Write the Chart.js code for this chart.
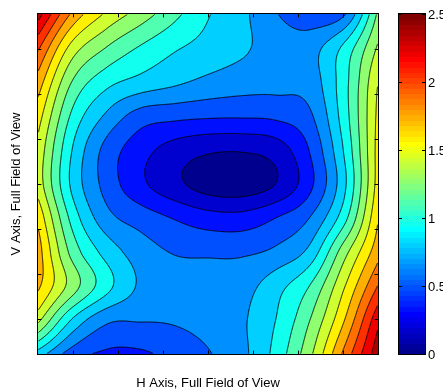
<!DOCTYPE html>
<html>
<head>
<meta charset="UTF-8">
<title>Contour map</title>
<script src="https://cdn.jsdelivr.net/npm/chart.js@4"></script>
<style>
  html, body { margin: 0; padding: 0; background: #fff; }
  canvas { display: block; }
</style>
</head>
<body>
<canvas id="c" width="443" height="390"></canvas>
<script>
// sample positions of the surface (axis units)
const gridX = [-3.78, -3.024, -2.268, -1.512, -0.756, 0, 0.756, 1.512, 2.268, 3.024, 3.78];
const gridY = [3.78, 3.024, 2.268, 1.512, 0.756, 0, -0.756, -1.512, -2.268, -3.024, -3.78];

// surface values, one row per gridY (top -> bottom)
const zRow0  = [2.42, 1.85, 1.54, 1.34, 1.14, 0.95, 0.82, 0.635, 0.52, 0.60, 1.28];
const zRow1  = [2.06, 1.50, 1.245, 1.077, 0.958, 0.878, 0.805, 0.72, 0.72, 0.976, 1.43];
const zRow2  = [1.81, 1.245, 0.992, 0.885, 0.812, 0.742, 0.698, 0.68, 0.70, 1.033, 1.56];
const zRow3  = [1.635, 1.063, 0.757, 0.556, 0.512, 0.49, 0.485, 0.50, 0.60, 1.016, 1.60];
const zRow4  = [1.52, 0.9375, 0.575, 0.377, 0.25, 0.18, 0.17, 0.23, 0.48, 0.95, 1.62];
const zRow5  = [1.50, 0.905, 0.57, 0.352, 0.20, 0.09, 0.07, 0.16, 0.43, 0.898, 1.63];
const zRow6  = [1.68, 1.042, 0.686, 0.557, 0.46, 0.38, 0.37, 0.47, 0.63, 1.035, 1.71];
const zRow7  = [1.79, 1.198, 0.882, 0.706, 0.615, 0.60, 0.60, 0.66, 0.833, 1.341, 1.82];
const zRow8  = [1.75, 1.333, 0.996, 0.76, 0.70, 0.69, 0.72, 0.877, 1.10, 1.546, 2.04];
const zRow9  = [1.45, 0.923, 0.66, 0.635, 0.64, 0.68, 0.76, 0.94, 1.25, 1.71, 2.30];
const zRow10 = [0.86, 0.547, 0.44, 0.44, 0.525, 0.612, 0.741, 0.993, 1.37, 1.914, 2.45];
const zRows = [zRow0, zRow1, zRow2, zRow3, zRow4, zRow5, zRow6, zRow7, zRow8, zRow9, zRow10];

// contour levels
const levels = [0.15625, 0.3125, 0.46875, 0.625, 0.78125, 0.9375, 1.09375, 1.25,
                1.40625, 1.5625, 1.71875, 1.875, 2.03125, 2.1875, 2.34375];

const hTicks = [-3, -2, -1, 0, 1, 2, 3];
const vTicks = [-3, -2, -1, 0, 1, 2, 3];
const cbTicks = [0, 0.5, 1, 1.5, 2, 2.5];
const cbLabels = ['0', '0.5', '1', '1.5', '2', '2.5'];
const cMin = 0, cMax = 2.5;
const hTitle = 'H Axis, Full Field of View';
const vTitle = 'V Axis, Full Field of View';

const FONT = '13px "Liberation Sans", Arial, sans-serif';

// MATLAB jet(64), row i = 1..64
function jet64(i) {
  const u = k => k <= 16 ? k / 16 : (k <= 31 ? 1 : (48 - k) / 16);
  const r = i >= 25 ? u(i - 24) : 0;
  const g = (i >= 9 && i <= 55) ? u(i - 8) : 0;
  const b = i <= 39 ? u(i + 8) : 0;
  return [Math.round(r * 255), Math.round(g * 255), Math.round(b * 255)];
}
function colorIndex(v) {
  return Math.max(1, Math.min(64, Math.floor((v - cMin) / (cMax - cMin) * 64 + 1e-9) + 1));
}

// padded grid (linear extension) for bicubic sampling
const wide = zRows.map(r => [2 * r[0] - r[1], ...r, 2 * r[r.length - 1] - r[r.length - 2]]);
const padTop = wide[0].map((v, i) => 2 * v - wide[1][i]);
const padBot = wide[wide.length - 1].map((v, i) => 2 * v - wide[wide.length - 2][i]);
const P = [padTop, ...wide, padBot];

function cr(p0, p1, p2, p3, t) {
  return 0.5 * (2 * p1 + (-p0 + p2) * t + (2 * p0 - 5 * p1 + 4 * p2 - p3) * t * t + (-p0 + 3 * p1 - 3 * p2 + p3) * t * t * t);
}
function surf(vx, vy) {
  const nc = gridX.length, nr = gridY.length;
  const fc = (vx - gridX[0]) / (gridX[nc - 1] - gridX[0]) * (nc - 1);
  const fr = (vy - gridY[0]) / (gridY[nr - 1] - gridY[0]) * (nr - 1);
  const c0 = Math.max(0, Math.min(nc - 2, Math.floor(fc)));
  const r0 = Math.max(0, Math.min(nr - 2, Math.floor(fr)));
  const t = fc - c0, s = fr - r0;
  const col = [];
  for (let k = 0; k < 4; k++) {
    const row = P[r0 + k];
    col.push(cr(row[c0], row[c0 + 1], row[c0 + 2], row[c0 + 3], t));
  }
  return cr(col[0], col[1], col[2], col[3], s);
}

const contourPlugin = {
  id: 'contour',
  beforeDatasetsDraw(chart) {
    const { ctx, chartArea: a, scales } = chart;
    const xs = scales.x, ys = scales.y;
    const w = Math.round(a.right - a.left), h = Math.round(a.bottom - a.top);
    const f = new Float32Array(w * h);
    const vxs = [];
    for (let i = 0; i < w; i++) vxs.push(xs.getValueForPixel(a.left + i + 0.5));
    for (let j = 0; j < h; j++) {
      const vy = ys.getValueForPixel(a.top + j + 0.5);
      for (let i = 0; i < w; i++) f[j * w + i] = surf(vxs[i], vy);
    }
    // filled bands: colour of the lower level of each band
    const bandCol = [0, ...levels].map(v => jet64(colorIndex(v)));
    const img = ctx.createImageData(w, h);
    for (let p = 0; p < w * h; p++) {
      const v = f[p];
      let b = 0;
      while (b < levels.length && v >= levels[b]) b++;
      const c = bandCol[b];
      img.data[p * 4] = c[0]; img.data[p * 4 + 1] = c[1]; img.data[p * 4 + 2] = c[2]; img.data[p * 4 + 3] = 255;
    }
    ctx.putImageData(img, a.left, a.top);

    // contour lines (marching squares)
    ctx.save();
    ctx.beginPath();
    const X = i => a.left + i + 0.5, Y = j => a.top + j + 0.5;
    levels.forEach(L => {
      for (let j = 0; j < h - 1; j++) {
        for (let i = 0; i < w - 1; i++) {
          const tl = f[j * w + i], tr = f[j * w + i + 1], bl = f[(j + 1) * w + i], br = f[(j + 1) * w + i + 1];
          const idx = (tl > L ? 8 : 0) | (tr > L ? 4 : 0) | (br > L ? 2 : 0) | (bl > L ? 1 : 0);
          if (idx === 0 || idx === 15) continue;
          const T = () => [X(i + (L - tl) / (tr - tl)), Y(j)];
          const R = () => [X(i + 1), Y(j + (L - tr) / (br - tr))];
          const B = () => [X(i + (L - bl) / (br - bl)), Y(j + 1)];
          const Lf = () => [X(i), Y(j + (L - tl) / (bl - tl))];
          const seg = (p, q) => { ctx.moveTo(p[0], p[1]); ctx.lineTo(q[0], q[1]); };
          const mid = (tl + tr + bl + br) / 4 > L;
          switch (idx) {
            case 1: case 14: seg(Lf(), B()); break;
            case 2: case 13: seg(B(), R()); break;
            case 3: case 12: seg(Lf(), R()); break;
            case 4: case 11: seg(T(), R()); break;
            case 6: case 9: seg(T(), B()); break;
            case 7: case 8: seg(T(), Lf()); break;
            case 5:
              if (mid) { seg(T(), Lf()); seg(R(), B()); } else { seg(T(), R()); seg(Lf(), B()); }
              break;
            case 10:
              if (mid) { seg(T(), R()); seg(Lf(), B()); } else { seg(T(), Lf()); seg(R(), B()); }
              break;
          }
        }
      }
    });
    ctx.strokeStyle = '#000';
    ctx.lineWidth = 0.9;
    ctx.stroke();
    ctx.restore();
  },
  afterDraw(chart) {
    const { ctx, chartArea: a, scales } = chart;
    const xs = scales.x, ys = scales.y, cb = scales.cb;
    const tick = 3.4;
    ctx.save();
    ctx.strokeStyle = '#000';
    ctx.lineWidth = 1;
    // axes box
    ctx.strokeRect(a.left - 0.5, a.top - 0.5, a.right - a.left + 1, a.bottom - a.top + 1);
    ctx.beginPath();
    hTicks.forEach(t => {
      const px = Math.round(xs.getPixelForValue(t)) + 0.5;
      ctx.moveTo(px, a.bottom); ctx.lineTo(px, a.bottom - tick);
      ctx.moveTo(px, a.top); ctx.lineTo(px, a.top + tick);
    });
    vTicks.forEach(t => {
      const py = Math.round(ys.getPixelForValue(t)) + 0.5;
      ctx.moveTo(a.left, py); ctx.lineTo(a.left + tick, py);
      ctx.moveTo(a.right, py); ctx.lineTo(a.right - tick, py);
    });
    ctx.stroke();

    // colour bar
    const cbL = cb.left + 21, cbR = cb.left + 47;
    for (let k = 0; k < 64; k++) {
      const v0 = cMin + (cMax - cMin) * k / 64, v1 = cMin + (cMax - cMin) * (k + 1) / 64;
      const y0 = cb.getPixelForValue(v1), y1 = cb.getPixelForValue(v0);
      const c = jet64(k + 1);
      ctx.fillStyle = `rgb(${c[0]},${c[1]},${c[2]})`;
      ctx.fillRect(cbL, Math.floor(y0), cbR - cbL, Math.ceil(y1) - Math.floor(y0));
    }
    ctx.strokeRect(cbL - 0.5, cb.top - 0.5, cbR - cbL + 1, cb.bottom - cb.top + 1);
    ctx.beginPath();
    cbTicks.forEach(t => {
      const py = Math.round(cb.getPixelForValue(t)) + 0.5;
      ctx.moveTo(cbL, py); ctx.lineTo(cbL + 3, py);
      ctx.moveTo(cbR, py); ctx.lineTo(cbR - 3, py);
    });
    ctx.stroke();

    ctx.fillStyle = '#000';
    ctx.font = FONT;
    ctx.textAlign = 'left';
    ctx.textBaseline = 'middle';
    cbTicks.forEach((t, k) => ctx.fillText(cbLabels[k], cbR + 3, cb.getPixelForValue(t) + 1));

    // axis titles
    ctx.textAlign = 'center';
    ctx.textBaseline = 'alphabetic';
    ctx.fillText(hTitle, (a.left + a.right) / 2, 387);
    ctx.translate(20, (a.top + a.bottom) / 2);
    ctx.rotate(-Math.PI / 2);
    ctx.fillText(vTitle, 0, 0);
    ctx.restore();
  }
};

new Chart(document.getElementById('c'), {
  type: 'scatter',
  data: { datasets: [{ data: [], pointRadius: 0 }] },
  options: {
    responsive: false,
    animation: false,
    devicePixelRatio: 1,
    layout: { padding: { top: 14, left: 0, right: 0, bottom: 0 } },
    plugins: { legend: { display: false }, tooltip: { enabled: false } },
    scales: {
      x: {
        type: 'linear', position: 'bottom', min: -3.78, max: 3.78,
        ticks: { display: false }, grid: { display: false }, border: { display: false },
        afterFit(s) { s.height = 36; }
      },
      y: {
        type: 'linear', position: 'left', min: -3.78, max: 3.78,
        ticks: { display: false }, grid: { display: false }, border: { display: false },
        afterFit(s) { s.width = 38; }
      },
      cb: {
        type: 'linear', axis: 'y', position: 'right', min: cMin, max: cMax,
        ticks: { display: false }, grid: { display: false }, border: { display: false },
        afterFit(s) { s.width = 65; }
      }
    }
  },
  plugins: [contourPlugin]
});
</script>
</body>
</html>
